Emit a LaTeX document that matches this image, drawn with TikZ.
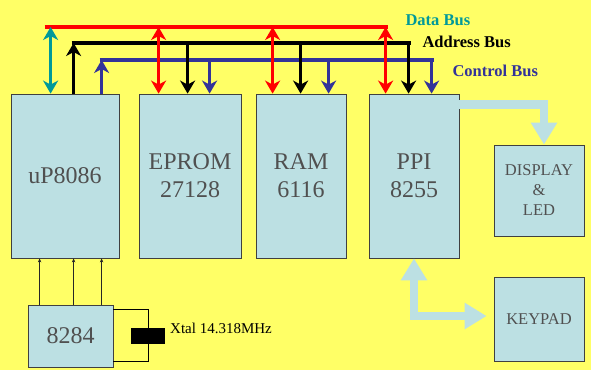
\documentclass[tikz,border=0pt]{standalone}
\usepackage{fontspec}
\setmainfont{Liberation Serif}
\usetikzlibrary{arrows.meta}
\definecolor{bg}{RGB}{255,255,102}
\definecolor{boxc}{RGB}{188,224,227}
\definecolor{dbusc}{RGB}{255,0,0}
\definecolor{cbusc}{RGB}{51,51,153}
\definecolor{tealc}{RGB}{0,153,153}
\definecolor{txtc}{RGB}{80,80,80}
\begin{document}
\begin{tikzpicture}[x=1pt,y=-1pt,
  blk/.style={draw=black!75, line width=0.8pt, fill=boxc, text=txtc, align=center, inner sep=0pt},
  bigtxt/.style={font=\fontsize{24}{28}\selectfont},
  smalltxt/.style={font=\fontsize{16.5}{20}\selectfont},
  bus/.style={line width=4pt},
  tap/.style={line width=3pt, -{Stealth[width=15pt,length=13pt,inset=4pt]}},
  dtap/.style={line width=3pt, {Stealth[width=15pt,length=13pt,inset=4pt]}-{Stealth[width=15pt,length=13pt,inset=4pt]}},
  fat/.style={line width=8.5pt, draw=boxc},
  fathead/.style={-{Triangle[width=25pt,length=22pt]}},
  fatdouble/.style={{Triangle[width=25pt,length=22pt]}-{Triangle[width=25pt,length=22pt]}},
  clk/.style={line width=0.6pt, draw=black!85, -{Stealth[length=4pt,width=3.5pt]}},
  wire/.style={line width=0.8pt, draw=black},
  buslbl/.style={anchor=west, font=\bfseries\fontsize{16.5}{20}\selectfont}]

\useasboundingbox (0,0) rectangle (591,370);
\fill[bg] (0,0) rectangle (591,370);

% blocks
\node[blk, bigtxt, minimum width=108pt, minimum height=164pt] (up) at (65,176) {\raisebox{-7pt}{uP8086}};
\node[blk, bigtxt, minimum width=102pt, minimum height=164pt] (eprom) at (190,176) {EPROM\\27128};
\node[blk, bigtxt, minimum width=90pt, minimum height=164pt] (ram) at (301,176) {RAM\\6116};
\node[blk, bigtxt, minimum width=90pt, minimum height=164pt] (ppi) at (414,176) {PPI\\8255};
\node[blk, smalltxt, minimum width=90pt, minimum height=91pt] (disp) at (539,190.5) {DISPLAY\\\&\\LED};
\node[blk, smalltxt, minimum width=90pt, minimum height=84pt] (key) at (539,319) {KEYPAD};
\node[blk, bigtxt, minimum width=85pt, minimum height=62pt] (clkgen) at (70.5,336) {8284};

% bus levels
\coordinate (db) at (0,27);
\coordinate (ab) at (0,43);
\coordinate (cb) at (0,60);

% tap points
\path ([xshift=40pt]up.north west) coordinate (uD)
      ([xshift=63pt]up.north west) coordinate (uA)
      ([xshift=91pt]up.north west) coordinate (uC)
      ([xshift=20pt]eprom.north west) coordinate (eD)
      ([xshift=49pt]eprom.north west) coordinate (eA)
      ([xshift=71pt]eprom.north west) coordinate (eC)
      ([xshift=17pt]ram.north west) coordinate (rD)
      ([xshift=45pt]ram.north west) coordinate (rA)
      ([xshift=73pt]ram.north west) coordinate (rC)
      ([xshift=17pt]ppi.north west) coordinate (pD)
      ([xshift=40pt]ppi.north west) coordinate (pA)
      ([xshift=63pt]ppi.north west) coordinate (pC);

% bus lines
\draw[bus, dbusc] ([xshift=-6pt]uD |- db) -- ([xshift=2pt]pD |- db);
\draw[bus, black] ([xshift=-2pt]uA |- ab) -- ([xshift=2pt]pA |- ab);
\draw[bus, cbusc] ([xshift=-2pt]uC |- cb) -- ([xshift=2pt]pC |- cb);

% taps
\draw[dtap, tealc] (uD) -- (uD |- db);
\draw[tap, black] (uA) -- (uA |- ab);
\draw[tap, cbusc] (uC) -- (uC |- cb);
\foreach \d/\a/\c in {eD/eA/eC, rD/rA/rC, pD/pA/pC}{
  \draw[dtap, dbusc] (\d |- db) -- (\d);
  \draw[tap, black] (\a |- ab) -- (\a);
  \draw[tap, cbusc] (\c |- cb) -- (\c);
}

% bus labels
\node[buslbl, text=tealc] (dlbl) at (402,20) {Data Bus};
\node[buslbl, text=black] (albl) at (419,42) {Address Bus};
\node[buslbl, text=cbusc] (clbl) at (449,71) {Control Bus};

% PPI to display / keypad
\draw[fat, fathead] ([yshift=-11pt]ppi.north east) -| ([xshift=5pt]disp.north);
\draw[fat, fatdouble] (ppi.south) |- ([xshift=-7pt,yshift=3pt]key.west);

% clock lines
\path ([xshift=12pt]clkgen.north west) coordinate (k1)
      ([xshift=46pt]clkgen.north west) coordinate (k2)
      ([xshift=74pt]clkgen.north west) coordinate (k3);
\foreach \k in {k1,k2,k3}{
  \draw[clk] (\k) -- (\k |- up.south);
}

% crystal
\node[fill=black, minimum width=34pt, minimum height=16pt, inner sep=0pt] (xtal) at (148,336) {};
\draw[wire] ([yshift=-5pt]clkgen.north east) -| (xtal.north);
\draw[wire] (xtal.south) |- ([yshift=6pt]clkgen.south east);
\node[anchor=west, font=\fontsize{15}{18}\selectfont, inner sep=0pt] (xlbl) at (170,328) {Xtal 14.318MHz};

\end{tikzpicture}
\end{document}
